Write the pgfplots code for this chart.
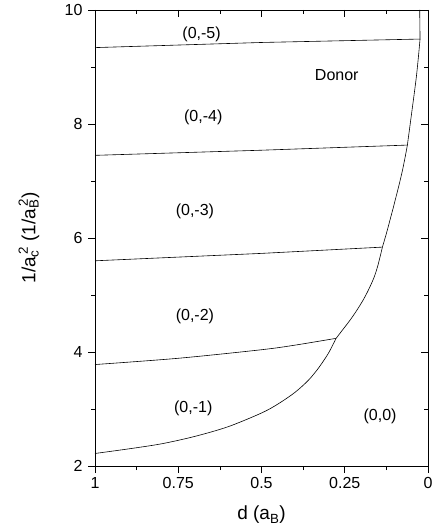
\documentclass[border=0pt]{standalone}
\usepackage{fontspec}
\setmainfont{Liberation Sans}
\usepackage{pgfplots}
\pgfplotsset{compat=1.18}
\begin{document}
\begin{tikzpicture}
\pgfplotsset{
  common/.style={
    width=333bp, height=456bp, scale only axis,
    xmin=0, xmax=1, ymin=2, ymax=10, x dir=reverse,
    xtick={0,0.25,0.5,0.75,1}, ytick={2,4,6,8,10},
    minor xtick={0.125,0.375,0.625,0.875}, minor ytick={3,5,7,9},
    every tick/.style={black, line width=0.6pt},
    axis line style={line width=0.8pt},
    /pgf/number format/assume math mode=true,
    tick label style={font=\fontsize{16bp}{18bp}\selectfont},
    major tick length=7bp, minor tick length=4bp,
    clip=false,
  }
}
\begin{axis}[common, xtick pos=bottom, ytick pos=left, tick align=outside,
  xticklabel style={yshift=-1bp},
  yticklabel style={xshift=-2bp},
  xlabel={d (a\textsubscript{B})},
  ylabel={1/a\rlap{\textsubscript{c}}\textsuperscript{\,2} (1/a\rlap{\textsubscript{B}}\textsuperscript{\,2})},
  every axis x label/.style={at={(axis description cs:0.5,0)}, anchor=center, yshift=-49bp, font=\fontsize{19bp}{22bp}\selectfont},
  every axis y label/.style={at={(axis description cs:0,0.5)}, anchor=center, xshift=-66bp, rotate=90, font=\fontsize{19bp}{22bp}\selectfont},
]
\path[draw=none] (rel axis cs:-0.2853,-0.1425) rectangle (rel axis cs:1.018,1.0219);
% boundary (0,0)/(0,-1)
\addplot[black, line width=0.6pt, smooth] coordinates {
(1,2.22) (0.9,2.30) (0.8,2.39) (0.7,2.52) (0.6,2.69) (0.5,2.93) (0.45,3.09) (0.4,3.29) (0.36,3.50)
(0.33,3.71) (0.30,3.97) (0.276,4.24)
};
\addplot[black, line width=0.6pt, smooth] coordinates {
(0.276,4.24) (0.255,4.40) (0.234,4.56) (0.214,4.73) (0.194,4.92) (0.178,5.10) (0.162,5.31) (0.150,5.53) (0.137,5.84)
};
\addplot[black, line width=0.6pt, smooth] coordinates {
(0.137,5.84) (0.125,6.08) (0.114,6.32) (0.104,6.54) (0.094,6.77) (0.085,6.98) (0.077,7.18) (0.069,7.41) (0.062,7.63)
};
\addplot[black, line width=0.6pt, smooth] coordinates {
(0.062,7.63) (0.049,8.20) (0.036,8.78) (0.029,9.17) (0.024,9.49)
};
\addplot[black, line width=0.6pt] coordinates {(0.024,9.49) (0.025,10)};
\addplot[black, line width=0.6pt, smooth] coordinates {(1,3.78) (0.75,3.89) (0.5,4.04) (0.4,4.12) (0.276,4.24)};
\addplot[black, line width=0.6pt] coordinates {(1,5.60) (0.5,5.73) (0.137,5.84)};
\addplot[black, line width=0.6pt] coordinates {(1,7.45) (0.5,7.54) (0.062,7.63)};
\addplot[black, line width=0.6pt] coordinates {(1,9.34) (0.5,9.43) (0.024,9.49)};
\begin{scope}[font=\fontsize{16bp}{18bp}\selectfont]
\node at (axis cs:0.68,9.57) {(0,-5)};
\node at (axis cs:0.274,8.85) {Donor};
\node at (axis cs:0.675,8.11) {(0,-4)};
\node at (axis cs:0.70,6.47) {(0,-3)};
\node at (axis cs:0.70,4.62) {(0,-2)};
\node at (axis cs:0.705,3.01) {(0,-1)};
\node at (axis cs:0.144,2.87) {(0,0)};
\end{scope}
\end{axis}
\begin{axis}[common, xtick pos=top, ytick pos=right, tick align=inside,
  xticklabels={}, yticklabels={}]
\end{axis}
\end{tikzpicture}
\end{document}
